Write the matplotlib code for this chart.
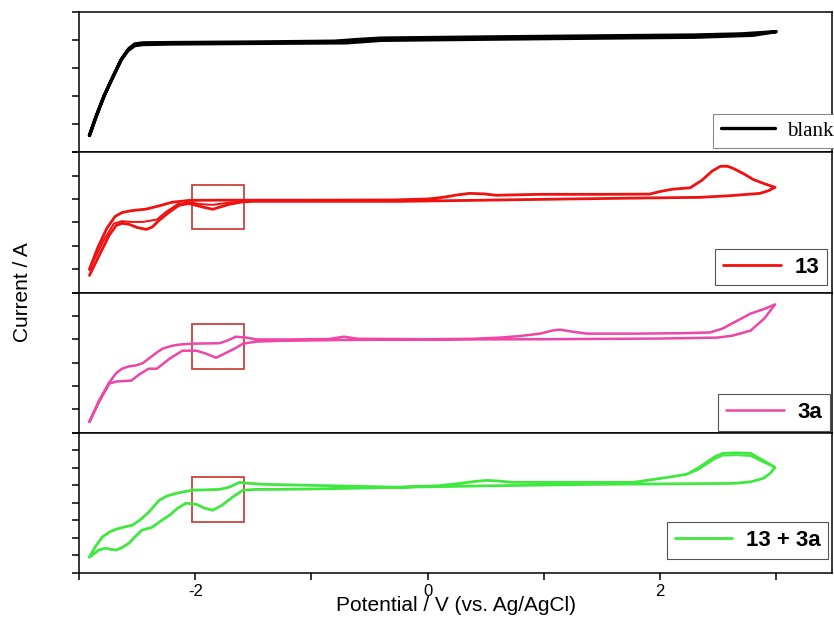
import matplotlib
matplotlib.use("Agg")
import matplotlib.pyplot as plt
from matplotlib.patches import Rectangle
from matplotlib.ticker import MultipleLocator

plt.rcParams["axes.unicode_minus"] = False

# CV data, potential in V and current in arbitrary units (one unit = one y tick)
# blank
blank_fwd_v = [-2.91, -2.85, -2.78, -2.70, -2.63, -2.57, -2.52, -2.45, -2.2, -1.5, -0.8, -0.6, -0.4, 0.5, 1.5, 2.3, 2.7, 3.0]
blank_fwd_i = [0.60, 1.30, 2.05, 2.75, 3.35, 3.70, 3.86, 3.90, 3.91, 3.93, 3.96, 4.02, 4.07, 4.11, 4.15, 4.18, 4.22, 4.30]
blank_rev_v = [3.0, 2.8, 2.3, 1.5, 0.5, -0.4, -0.7, -1.5, -2.2, -2.45, -2.52, -2.58, -2.64, -2.71, -2.79, -2.86, -2.91]
blank_rev_i = [4.30, 4.17, 4.10, 4.07, 4.03, 3.99, 3.90, 3.88, 3.86, 3.84, 3.80, 3.62, 3.28, 2.68, 1.95, 1.20, 0.60]

# 13
c13_fwd_v = [-2.91, -2.84, -2.76, -2.69, -2.63, -2.55, -2.42, -2.30, -2.20, -2.05, -1.8, -1.5, -1.0, -0.3, 0.0, 0.13,
             0.25, 0.36, 0.48, 0.59, 0.97, 1.5, 1.91, 2.0, 2.11, 2.26, 2.36, 2.45, 2.52, 2.58, 2.63, 2.72, 2.8, 2.9, 2.99]
c13_fwd_i = [1.00, 1.90, 2.75, 3.25, 3.42, 3.50, 3.57, 3.72, 3.86, 3.94, 3.95, 3.95, 3.95, 3.96, 4.00, 4.07,
             4.17, 4.24, 4.22, 4.16, 4.20, 4.20, 4.21, 4.32, 4.42, 4.48, 4.80, 5.20, 5.40, 5.40, 5.31, 5.08, 4.84, 4.65, 4.50]
c13_rev_v = [2.99, 2.93, 2.86, 2.6, 2.34, 1.8, 1.2, 0.5, -0.24, -1.0, -1.5, -1.59, -1.71, -1.85, -1.94, -2.05, -2.14,
             -2.22, -2.31, -2.37, -2.42, -2.50, -2.57, -2.63, -2.68, -2.74, -2.82, -2.91]
c13_rev_i = [4.50, 4.35, 4.24, 4.14, 4.07, 4.04, 4.00, 3.95, 3.90, 3.90, 3.90, 3.88, 3.77, 3.56, 3.66, 3.81, 3.73,
             3.45, 3.09, 2.80, 2.70, 2.78, 2.92, 2.96, 2.87, 2.45, 1.65, 0.73]
# second cycle, reverse scan
c13_rev2_v = [-1.5, -1.7, -1.85, -1.95, -2.05, -2.15, -2.25, -2.33, -2.45, -2.55, -2.63, -2.70, -2.78, -2.86, -2.91]
c13_rev2_i = [3.92, 3.85, 3.75, 3.78, 3.86, 3.78, 3.45, 3.12, 3.02, 3.02, 3.05, 2.95, 2.30, 1.50, 0.95]

# 3a
c3a_fwd_v = [-2.91, -2.83, -2.74, -2.68, -2.63, -2.57, -2.51, -2.45, -2.40, -2.34, -2.28, -2.20, -2.14, -2.03, -1.79,
             -1.72, -1.65, -1.56, -1.47, -1.2, -0.85, -0.72, -0.6, 0.0, 0.4, 0.62, 0.8, 0.97, 1.08, 1.14, 1.25, 1.37,
             1.77, 2.2, 2.43, 2.54, 2.66, 2.78, 2.9, 2.99]
c3a_fwd_i = [0.47, 1.35, 2.15, 2.55, 2.74, 2.84, 2.88, 2.98, 3.17, 3.40, 3.60, 3.72, 3.77, 3.81, 3.83,
             3.95, 4.11, 4.07, 3.99, 3.99, 4.01, 4.11, 4.02, 4.00, 4.02, 4.07, 4.14, 4.24, 4.38, 4.41, 4.32, 4.24,
             4.24, 4.26, 4.29, 4.46, 4.78, 5.10, 5.30, 5.49]
c3a_rev_v = [2.99, 2.9, 2.78, 2.62, 2.49, 2.0, 1.0, 0.0, -0.7, -1.0, -1.3, -1.47, -1.59, -1.66, -1.73, -1.82, -1.91,
             -1.99, -2.11, -2.22, -2.33, -2.40, -2.48, -2.55, -2.62, -2.68, -2.74, -2.83, -2.91]
c3a_rev_i = [5.49, 4.90, 4.37, 4.15, 4.07, 4.03, 4.00, 3.99, 3.97, 3.95, 3.93, 3.90, 3.81, 3.60, 3.43, 3.21, 3.39,
             3.51, 3.51, 3.17, 2.74, 2.74, 2.50, 2.23, 2.21, 2.19, 2.10, 1.30, 0.47]

# 13 + 3a
mix_fwd_v = [-2.91, -2.86, -2.80, -2.74, -2.68, -2.61, -2.54, -2.47, -2.40, -2.31, -2.24, -2.16, -2.03, -1.79, -1.71,
             -1.62, -1.53, -1.42, -1.0, -0.24, 0.1, 0.28, 0.4, 0.51, 0.62, 0.73, 1.2, 1.77, 2.06, 2.23, 2.32, 2.40,
             2.47, 2.54, 2.66, 2.78, 2.88, 2.99]
mix_fwd_i = [0.91, 1.50, 2.05, 2.33, 2.50, 2.62, 2.73, 3.05, 3.47, 4.15, 4.40, 4.55, 4.72, 4.77, 4.89,
             5.17, 5.11, 5.06, 5.00, 4.89, 4.98, 5.11, 5.22, 5.28, 5.24, 5.17, 5.17, 5.17, 5.45, 5.63, 5.95, 6.31,
             6.62, 6.82, 6.85, 6.82, 6.45, 6.02]
mix_rev_v = [2.99, 2.95, 2.89, 2.78, 2.63, 2.0, 1.48, 0.5, -0.24, -0.9, -1.3, -1.47, -1.59, -1.68, -1.77, -1.85,
             -1.92, -1.99, -2.08, -2.15, -2.22, -2.30, -2.37, -2.46, -2.52, -2.57, -2.63, -2.68, -2.73, -2.77, -2.83,
             -2.88, -2.91]
mix_rev_i = [6.02, 5.70, 5.40, 5.20, 5.11, 5.08, 5.06, 4.97, 4.89, 4.80, 4.77, 4.77, 4.72, 4.32, 3.86, 3.58,
             3.70, 3.92, 3.98, 3.70, 3.30, 2.95, 2.61, 2.44, 2.05, 1.70, 1.45, 1.31, 1.35, 1.42, 1.31,
             1.05, 0.91]
# second cycle around the oxidation peak
mix_fwd2_v = [2.2, 2.32, 2.40, 2.47, 2.54, 2.66, 2.78, 2.88, 2.99]
mix_fwd2_i = [5.58, 5.85, 6.20, 6.50, 6.70, 6.72, 6.68, 6.35, 6.02]

labels = ["blank", "13", "3a", "13 + 3a"]
colors = ["black", "#f01010", "#ef45a6", "#3fe83f"]
y_max = [5, 6, 6, 8]
# highlighted region (V range, current range) per panel
box_v = (-2.03, -1.58)
box_i = [None, (2.70, 4.59), (2.74, 4.67), (2.90, 5.45)]

fig, axes = plt.subplots(4, 1, figsize=(8.34, 6.3), dpi=100, sharex=True)
fig.subplots_adjust(left=79 / 834, right=832 / 834, top=1 - 12 / 630, bottom=1 - 573 / 630, hspace=0)

panels = [
    [(blank_fwd_v + blank_rev_v, blank_fwd_i + blank_rev_i)],
    [(c13_fwd_v + c13_rev_v, c13_fwd_i + c13_rev_i), (c13_rev2_v, c13_rev2_i)],
    [(c3a_fwd_v + c3a_rev_v, c3a_fwd_i + c3a_rev_i)],
    [(mix_fwd_v + mix_rev_v, mix_fwd_i + mix_rev_i), (mix_fwd2_v, mix_fwd2_i)],
]
lws = [2.4, 2.0, 1.8, 2.0]

for k, ax in enumerate(axes):
    for j, (v, i) in enumerate(panels[k]):
        ax.plot(v, i, color=colors[k], lw=lws[k] if j == 0 else lws[k] * 0.7,
                solid_joinstyle="round", solid_capstyle="round",
                label=labels[k] if j == 0 else None)
    ax.set_ylim(0, y_max[k])
    ax.yaxis.set_major_locator(MultipleLocator(1))
    ax.set_yticklabels([])
    ax.tick_params(axis="y", direction="out", length=5, width=1.1, left=True, right=False)
    for s in ax.spines.values():
        s.set_linewidth(1.1)
    if box_i[k] is not None:
        ax.add_patch(Rectangle((box_v[0], box_i[k][0]), box_v[1] - box_v[0], box_i[k][1] - box_i[k][0],
                               fill=False, edgecolor="#c8443c", lw=1.3))

axes[-1].set_xlim(-3, 3.48)
axes[-1].xaxis.set_major_locator(MultipleLocator(2))
axes[-1].xaxis.set_minor_locator(MultipleLocator(1))
axes[-1].tick_params(axis="x", which="both", direction="out", length=5, width=1.1, labelsize=12, pad=3)
for ax in axes[:-1]:
    ax.tick_params(axis="x", which="both", bottom=False)
for lab in axes[-1].get_xticklabels():
    lab.set_family("Liberation Sans")

# legends
leg_kw = dict(frameon=True, fancybox=False, framealpha=1, borderaxespad=0, handlelength=2.6,
              handletextpad=0.6, borderpad=0.35)
lg = axes[0].legend(loc="lower right", bbox_to_anchor=(1.012, 0.03),
                    prop={"family": "Liberation Serif", "size": 15}, **leg_kw)
lg.get_frame().set_edgecolor("#888888")
lg.get_frame().set_linewidth(0.8)
anchors = [None, (0.993, 0.05), (0.997, 0.014), (0.995, 0.10)]
for k in range(1, 4):
    lg = axes[k].legend(loc="lower right", bbox_to_anchor=anchors[k],
                        prop={"family": "Liberation Sans", "weight": "bold", "size": 16}, **leg_kw)
    lg.get_frame().set_edgecolor("#555555")
    lg.get_frame().set_linewidth(0.8)

axes[-1].set_xlabel("Potential / V (vs. Ag/AgCl)", family="Liberation Sans", fontsize=15, labelpad=-2)
fig.text(0.027, 1 - 292 / 630, "Current / A", rotation=90, va="center", ha="center",
         family="Liberation Sans", fontsize=15)

fig.savefig("out.png", dpi=100)
